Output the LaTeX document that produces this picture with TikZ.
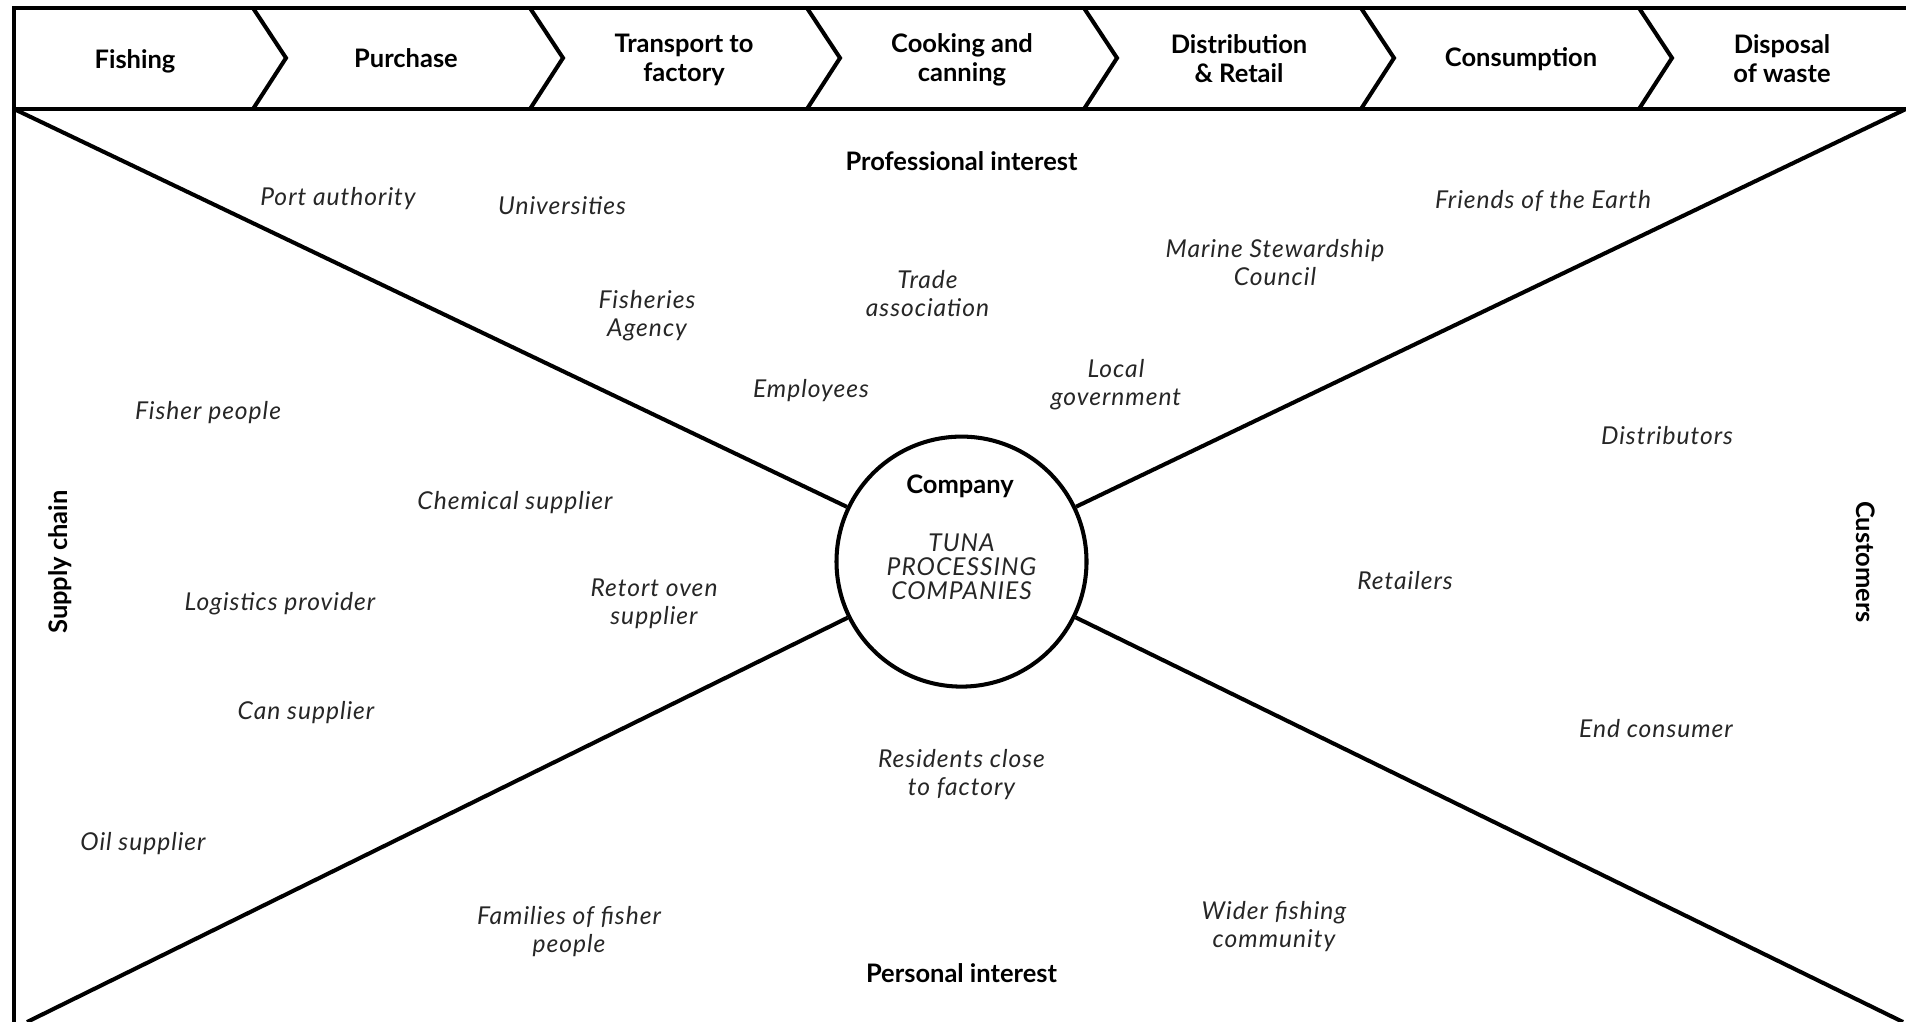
\documentclass[tikz,border=0pt]{standalone}
\usepackage{fontspec}
\setmainfont{Lato}
\newfontfamily\actorfont{Lato}[LetterSpace=4]
\begin{document}
\begin{tikzpicture}[x=0.2mm, y=-0.2mm, line width=2.3pt,
  stage/.style={font=\fontsize{14.5}{16.5}\selectfont\bfseries, align=center},
  group/.style={font=\fontsize{14.5}{17}\selectfont\bfseries},
  actor/.style={font=\fontsize{14}{16}\selectfont\actorfont\itshape, align=center, text=black!85, yshift=-0.3mm}]
  \useasboundingbox (0,0) rectangle (1906,1022);
  % frame and value chain banner
  \draw (1906,8) -- (14,8) -- (14,1022);
  \draw (14,109) -- (1906,109);
  \draw (253,8) -- (286,58) -- (253,109);
  \draw (530,8) -- (563,58) -- (530,109);
  \draw (807,8) -- (840,58) -- (807,109);
  \draw (1084,8) -- (1117,58) -- (1084,109);
  \draw (1361,8) -- (1394,58) -- (1361,109);
  \draw (1639,8) -- (1672,58) -- (1639,109);
  \node[stage] (fishing) at (135,61) {Fishing};
  \node[stage] (purchase) at (406,58) {Purchase};
  \node[stage] (transport) at (684,60) {Transport to\\factory};
  \node[stage] (cooking) at (962,60) {Cooking and\\canning};
  \node[stage] (retail) at (1239,59) {Distribution\\\& Retail};
  \node[stage] (consumption) at (1521,59) {Consumption};
  \node[stage] (disposal) at (1782,59) {Disposal\\of waste};
  % company circle and quadrants
  \node[draw, circle, minimum size=50mm, inner sep=0pt] (company) at (961.5,561.6) {};
  \coordinate (tl) at (14,109);
  \coordinate (tr) at (1906,109);
  \coordinate (bl) at (27,1022);
  \coordinate (br) at (1903,1022);
  \draw (tl) -- (company);
  \draw (tr) -- (company);
  \draw (bl) -- (company);
  \draw (br) -- (company);
  \node[group] (companylabel) at (960,486) {Company};
  \node[actor, font=\fontsize{14}{13.8}\selectfont\actorfont\itshape, yshift=0.3mm] (tuna) at (961.5,567) {TUNA\\PROCESSING\\COMPANIES};
  \node[group] (professional) at (961.5,161) {Professional interest};
  \node[group] (personal) at (961.5,973) {Personal interest};
  \node[group, rotate=90] (supply) at (60,562) {Supply chain};
  \node[group, rotate=-90] (customers) at (1866,562) {Customers};
  % stakeholders
  \node[actor] (port) at (338,197) {Port authority};
  \node[actor] (univ) at (562,204) {Universities};
  \node[actor] (agency) at (647,314) {Fisheries\\Agency};
  \node[actor] (trade) at (927.5,292) {Trade\\association};
  \node[actor] (employees) at (811,389) {Employees};
  \node[actor] (localgov) at (1116,383) {Local\\government};
  \node[actor] (msc) at (1275,261) {Marine Stewardship\\Council};
  \node[actor] (foe) at (1543,199) {Friends of the Earth};
  \node[actor] (fisher) at (208,411) {Fisher people};
  \node[actor] (chemical) at (515,501) {Chemical supplier};
  \node[actor] (logistics) at (280,602) {Logistics provider};
  \node[actor] (retort) at (654,602) {Retort oven\\supplier};
  \node[actor] (can) at (306,711) {Can supplier};
  \node[actor] (oil) at (143,842) {Oil supplier};
  \node[actor] (residents) at (961.5,773) {Residents close\\to factory};
  \node[actor] (families) at (569,930) {Families of fisher\\people};
  \node[actor] (wider) at (1274,925) {Wider fishing\\community};
  \node[actor] (distributors) at (1667,434) {Distributors};
  \node[actor] (retailers) at (1405,579) {Retailers};
  \node[actor] (endconsumer) at (1656,727) {End consumer};
\end{tikzpicture}
\end{document}
